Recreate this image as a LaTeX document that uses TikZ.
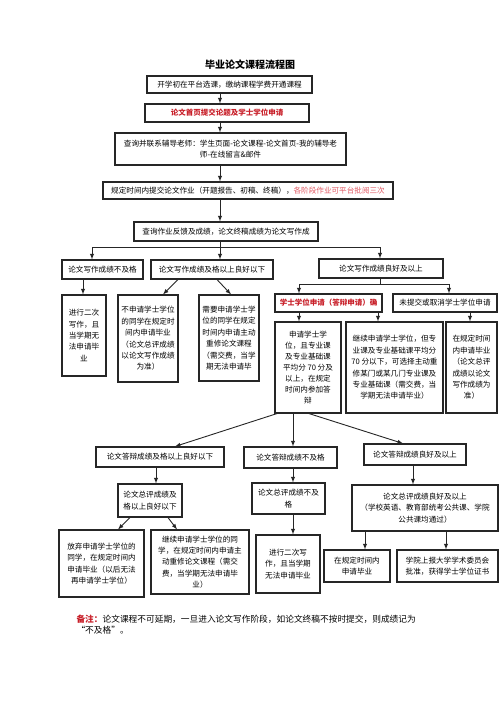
\documentclass[tikz,border=0pt]{standalone}
\usepackage{fontspec}
\setmainfont{Noto Sans CJK SC}
\usetikzlibrary{calc}

\definecolor{darkred}{RGB}{200,30,40}
\definecolor{pinkred}{RGB}{225,90,100}

\tikzstyle{block} = [draw=black!85, rectangle, line width=1.1pt, inner sep=1pt, align=center,
    font=\fontsize{7.6}{11.4}\selectfont]
\tikzstyle{redblock} = [block, text=darkred, font=\fontsize{7.5}{11.2}\selectfont\bfseries]
\tikzstyle{line} = [draw=black!85, line width=0.9pt]

\begin{document}
\begin{tikzpicture}[x=1pt, y=-1pt, >=latex]
    \useasboundingbox (0,0) rectangle (500,707);
    \fill[white] (0,0) rectangle (500,707);

    \node [font=\fontsize{10}{12}\selectfont\bfseries] (title) at (250,65) {毕业论文课程流程图};

    % upper part
    \node [block, minimum width=165pt, minimum height=17pt] (start) at (229.5,84.5)
        {开学初在平台选课，缴纳课程学费开通课程};
    \node [redblock, minimum width=164pt, minimum height=18pt] (topic) at (227,113)
        {论文首页提交论题及学士学位申请};
    \node [block, minimum width=231pt, minimum height=32pt] (tutor) at (230.5,149)
        {查询并联系辅导老师：学生页面-论文课程-论文首页-我的辅导老\\师-在线留言\&邮件};
    \node [block, minimum width=290pt, minimum height=17pt] (submit) at (248,190.5)
        {规定时间内提交论文作业（开题报告、初稿、终稿），\textcolor{pinkred}{各阶段作业可平台批阅三次}};
    \node [block, minimum width=184pt, minimum height=19pt] (feedback) at (226,231.5)
        {查询作业反馈及成绩，论文终稿成绩为论文写作成};
    \coordinate (spine) at (220,0);

    % writing grade
    \node [block, minimum width=81pt, minimum height=19pt] (wfail) at (102.5,269.5) {论文写作成绩不及格};
    \node [block, minimum width=122pt, minimum height=19pt] (wpass) at (212,269.5) {论文写作成绩及格以上良好以下};
    \node [block, minimum width=124pt, minimum height=19pt] (wgood) at (381,268.5) {论文写作成绩良好及以上};
    \coordinate (wsplit) at (220,247);

    \node [block, minimum width=44pt, minimum height=81pt] (rewrite) at (84,335.5)
        {进行二次\\写作，且\\当学期无\\法申请毕\\业};
    \node [block, minimum width=60pt, minimum height=87pt] (nodegree) at (148,338.5)
        {不申请学士学位\\的同学在规定时\\间内申请毕业\\（论文总评成绩\\以论文写作成绩\\为准）};
    \node [block, minimum width=60pt, minimum height=86pt] (retake) at (229,338)
        {需要申请学士学\\位的同学在规定\\时间内申请主动\\重修论文课程\\（需交费，当学\\期无法申请毕};

    \node [redblock, minimum width=107pt, minimum height=18pt] (degree) at (328.5,303)
        {学士学位申请（答辩申请）确};
    \node [block, minimum width=104pt, minimum height=18pt] (cancel) at (445,303)
        {未提交或取消学士学位申请};
    \coordinate (gsplit) at (380,284);

    \node [block, minimum width=66pt, minimum height=91pt, font=\fontsize{7.6}{10.9}\selectfont] (defense) at (308,367.5)
        {申请学士学\\位，且专业课\\及专业基础课\\平均分 70 分及\\以上，在规定\\时间内参加答\\辩};
    \node [block, minimum width=97pt, minimum height=91pt] (resit) at (394.5,367.5)
        {继续申请学士学位，但专\\业课及专业基础课平均分\\70 分以下，可选择主动重\\修某门或某几门专业课及\\专业基础课（需交费，当\\学期无法申请毕业）};
    \node [block, minimum width=51pt, minimum height=91pt] (graduate) at (471.5,367.5)
        {在规定时间\\内申请毕业\\（论文总评\\成绩以论文\\写作成绩为\\准）};

    % defense grade
    \node [block, minimum width=128pt, minimum height=20pt] (dpass) at (160,457) {论文答辩成绩及格以上良好以下};
    \node [block, minimum width=93pt, minimum height=21pt] (dfail) at (290.5,457.5) {论文答辩成绩不及格};
    \node [block, minimum width=102pt, minimum height=21pt] (dgood) at (415,454.5) {论文答辩成绩良好及以上};

    \node [block, minimum width=64pt, minimum height=33pt] (tpass) at (150,500.5)
        {论文总评成绩及\\格以上良好以下};
    \node [block, minimum width=73pt, minimum height=31pt] (tfail) at (288.5,498.5)
        {论文总评成绩不及\\格};
    \node [block, minimum width=146pt, minimum height=46pt] (tgood) at (425,508)
        {论文总评成绩良好及以上\\（学校英语、教育部统考公共课、学院\\公共课均通过）};

    \node [block, minimum width=85pt, minimum height=67pt] (giveup) at (101.5,563.5)
        {放弃申请学士学位的\\同学，在规定时间内\\申请毕业（以后无法\\再申请学士学位）};
    \node [block, minimum width=98pt, minimum height=64pt] (redo) at (200,562)
        {继续申请学士学位的同\\学，在规定时间内申请主\\动重修论文课程（需交\\费，当学期无法申请毕\\业）};
    \node [block, minimum width=64pt, minimum height=58pt] (rewrite2) at (288,564)
        {进行二次写\\作，且当学期\\无法申请毕业};
    \node [block, minimum width=66pt, minimum height=32pt] (apply) at (357,566)
        {在规定时间内\\申请毕业};
    \node [block, minimum width=101pt, minimum height=32pt] (award) at (447.5,566)
        {学院上报大学学术委员会\\批准，获得学士学位证书};

    \node [anchor=north west, align=left, font=\fontsize{8.7}{11.5}\selectfont] (note) at (73,611)
        {\textcolor{darkred}{\bfseries 备注：}论文课程不可延期，一旦进入论文写作阶段，如论文终稿不按时提交，则成绩记为\\“不及格”。};

    % connectors
    \draw [line, ->] (start.south -| spine) -- (topic.north -| spine);
    \draw [line, ->] (topic.south -| spine) -- (tutor.north -| spine);
    \draw [line, ->] (tutor.south -| spine) -- (submit.north -| spine);
    \draw [line, ->] (submit.south -| spine) -- (feedback.north -| spine);
    \draw [line] (feedback.south -| spine) -- (wsplit);
    \draw [line, ->] (wsplit) -| ([xshift=-10.5pt]wfail.north);
    \draw [line, ->] (wsplit) -| ([xshift=-1pt]wgood.north);
    \draw [line, ->] (wsplit) -- (wpass.north -| spine);

    \draw [line, ->] ([xshift=-19.5pt]wfail.south) -- ([xshift=-1pt]rewrite.north);
    \draw [line, ->] ([xshift=-34pt]wpass.south) -- ([xshift=15pt]nodegree.north);
    \draw [line, ->] ([xshift=5pt]wpass.south) -- ([xshift=2pt]retake.north);

    \draw [line] (wgood.south -| gsplit) -- (gsplit);
    \draw [line, ->] (gsplit) -| ([xshift=-29.5pt]degree.north);
    \draw [line, ->] (gsplit) -| ([xshift=4pt]cancel.north);

    \draw [line, ->] ([xshift=-29.5pt]degree.south) -- ([xshift=-9pt]defense.north);
    \draw [line, ->] ([xshift=49.5pt]degree.south) -- ([xshift=-16.5pt]resit.north);
    \draw [line, ->] ([xshift=25pt]cancel.south) -- ([xshift=-1.5pt]graduate.north);

    \draw [line, ->] ([xshift=-31pt]defense.south) -- ([xshift=15pt]dpass.north);
    \draw [line, ->] ([xshift=-15pt]defense.south) -- ([xshift=2.5pt]dfail.north);
    \draw [line, ->] ([xshift=1pt]defense.south) -- ([xshift=-12pt]dgood.north);

    \draw [line, ->] ([xshift=-4pt]dpass.south) -- ([xshift=6pt]tpass.north);
    \draw [line, ->] ([xshift=2.5pt]dfail.south) -- ([xshift=4.5pt]tfail.north);
    \draw [line, ->] ([xshift=-2pt]dgood.south) -- ([xshift=-12pt]tgood.north);

    \draw [line, ->] ([xshift=-20pt]tpass.south) -- ([xshift=16.5pt]giveup.north);
    \draw [line, ->] ([xshift=18pt]tpass.south) -- ([xshift=-23pt]redo.north);
    \draw [line, ->] ([xshift=4.5pt]tfail.south) -- ([xshift=5pt]rewrite2.north);
    \draw [line, ->] ([xshift=-60pt]tgood.south) -- ([xshift=8pt]apply.north);
    \draw [line, ->] ([xshift=21pt]tgood.south) -- ([xshift=-1.5pt]award.north);
\end{tikzpicture}
\end{document}
